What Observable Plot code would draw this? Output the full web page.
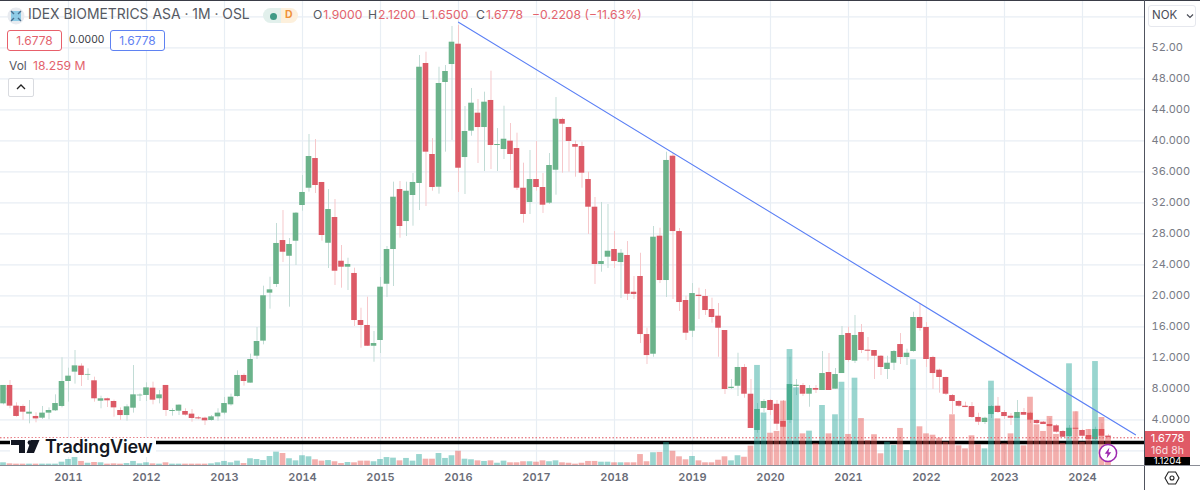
<!DOCTYPE html>
<html><head><meta charset="utf-8">
<script src="https://cdn.jsdelivr.net/npm/d3@7"></script>
<script src="https://cdn.jsdelivr.net/npm/@observablehq/plot@0.6"></script>
<style>
html,body{margin:0;padding:0;background:#fff;width:1200px;height:490px;overflow:hidden;font-family:Inter,"Noto Sans",sans-serif}
#wrap{position:relative;width:1200px;height:490px;overflow:hidden}
#wrap svg{display:block}
.t{position:absolute;white-space:nowrap;line-height:1}
.box{position:absolute;box-sizing:border-box;background:#fff}
.rule{position:absolute}
</style></head><body><div id="wrap"><div id="chart"></div></div>
<script>
// Monthly candles [open, high, low, close], NOK, one list per calendar year
const candles2010=[[6.06,8.43,5.93,8.43],[8.43,9.07,5.42,5.76],[5.76,6.19,4.34,4.43],[5.72,5.93,3.91,4.98],[4.73,6.49,3.48,4.98],[4.43,4.90,3.61,4.12],[4.21,5.72,4.04,4.86],[4.86,5.54,4.00,5.20],[5.16,7.22,5.07,6.10],[5.72,12.0,5.54,8.94]];
const candles2011=[[8.94,10.66,6.28,9.63],[10.15,12.94,8.6,10.96],[10.92,11.22,8.3,9.72],[9.76,10.58,9.07,9.85],[9.03,9.5,6.28,6.71],[6.4,7.05,5.42,6.71],[6.71,6.79,5.59,6.45],[6.36,6.53,4.34,5.54],[5.2,5.54,3.91,4.55],[4.55,5.93,3.82,5.67],[5.5,11.0,4.86,7.22],[7.09,7.35,6.36,7.18]];
const candles2012=[[7.14,8.77,6.36,8.12],[8.08,8.86,5.93,6.53],[6.71,7.78,6.06,7.22],[8.43,8.43,4.43,5.2],[5.07,5.42,4.47,5.2],[5.11,5.93,4.55,5.89],[5.07,5.42,4.47,4.6],[4.73,5.33,3.69,4.17],[4.25,4.43,4.0,4.12],[4.21,4.34,3.26,3.87],[3.91,4.55,3.82,4.38],[4.38,5.42,3.82,4.86]];
const candles2013=[[4.86,6.88,4.64,6.1],[5.93,7.31,5.76,6.92],[7.0,10.32,6.92,9.72],[9.72,9.93,8.34,8.94],[8.73,12.47,8.73,11.78],[12.21,15.91,11.78,14.1],[14.15,21.24,13.67,20.0],[20.34,22.4,18.27,20.77],[21.46,29.33,21.07,26.75],[27.13,31.0,24.29,25.62],[25.1,27.39,18.53,26.62],[27.04,30.75,23.91,30.66]];
const candles2014=[[31.65,35.52,30.91,33.33],[33.88,40.81,33.37,37.97],[37.71,40.16,33.2,34.23],[34.62,34.62,27.04,27.78],[26.78,33.71,23.52,31.13],[30.1,32.42,21.33,23.17],[24.46,26.49,20.98,23.69],[23.69,24.85,20.68,24.04],[22.88,23.56,16.04,16.81],[16.81,18.4,13.24,16.17],[16.17,19.82,13.46,13.49],[13.49,15.39,11.43,13.84]];
const candles2015=[[14.23,22.36,12.55,21.11],[21.49,26.36,19.78,25.97],[25.97,34.66,21.2,32.72],[33.71,34.75,27.43,28.94],[29.58,34.66,27.65,33.49],[32.94,35.78,28.98,34.62],[34.49,51.0,31.0,49.49],[49.97,51.43,31.52,38.53],[38.23,40.29,33.49,33.97],[34.01,49.49,33.11,47.39],[47.52,49.71,38.53,48.94],[49.84,54.75,40.04,52.72]];
const candles2016=[[52.46,54.87,33.33,36.46],[37.84,44.42,33.07,41.2],[41.24,46.75,40.59,44.85],[43.56,45.33,37.07,41.71],[41.71,46.27,36.04,44.98],[45.2,48.98,36.29,39.39],[39.39,41.58,36.04,39.52],[38.87,44.46,37.58,40.2],[39.95,42.23,36.16,38.23],[39.0,40.98,33.58,33.88],[33.88,37.11,29.37,30.49],[32.04,38.75,30.49,35.0]];
const candles2017=[[35.0,39.91,33.49,33.97],[33.97,35.78,30.62,31.69],[31.95,38.36,31.78,36.81],[36.2,45.58,32.98,42.78],[42.75,42.91,35.82,42.14],[41.71,41.75,35.95,39.91],[39.52,39.95,35.3,39.17],[39.26,39.82,33.88,35.82],[35.0,35.95,27.91,31.43],[31.43,32.68,21.46,24.04],[24.04,32.04,23.04,24.42],[24.98,31.78,23.52,25.75]];
const candles2018=[[25.97,28.29,23.52,24.42],[24.29,25.97,19.65,25.49],[25.2,27.0,19.39,20.2],[20.46,22.49,19.52,20.17],[22.49,25.49,13.84,15.0],[15.0,15.82,11.13,12.29],[12.46,28.94,12.07,27.56],[27.69,28.72,21.58,21.97],[21.97,38.53,19.78,37.46],[38.01,38.36,19.52,28.29],[28.29,28.68,17.97,19.13],[19.39,19.95,14.23,15.17]];
const candles2019=[[15.43,21.58,14.62,20.29],[20.07,20.98,16.94,19.91],[19.91,20.81,17.46,18.1],[18.23,19.69,16.46,17.2],[17.37,19.0,12.07,15.82],[15.52,15.52,7.26,7.91],[8.04,9.2,7.91,8.2],[8.33,12.59,7.0,10.75],[10.75,11.13,6.78,7.3],[7.3,9.2,2.88,2.88],[2.62,6.1,2.27,5.33],[5.46,6.62,4.94,6.36]];
const candles2020=[[6.49,6.62,4.55,5.2],[6.0,6.49,2.62,3.43],[3.78,6.49,1.75,3.04],[3.91,12.07,3.52,8.55],[8.3,9.2,7.13,8.46],[8.42,8.68,7.0,7.3],[7.3,8.42,5.62,8.04],[8.04,8.42,7.39,7.82],[7.78,12.81,7.78,9.97],[10.1,12.55,7.78,7.78],[7.95,10.62,7.91,9.84],[9.97,16.04,9.97,14.88]];
const candles2021=[[15.13,15.95,11.43,11.65],[11.56,17.46,11.26,14.88],[15.26,16.29,12.55,12.94],[12.98,14.62,11.56,12.85],[12.94,12.94,9.2,12.2],[12.2,12.29,9.71,10.75],[10.49,12.2,9.2,11.3],[11.3,12.94,10.36,12.81],[13.71,15.13,11.13,12.04],[12.04,13.11,11.0,12.59],[12.81,17.88,12.72,17.2],[17.2,19.0,15.43,15.78]];
const candles2022=[[15.91,16.55,10.75,11.78],[12.04,12.2,7.91,9.97],[10.4,10.53,7.43,9.46],[9.46,9.49,7.13,7.3],[7.13,7.26,4.68,6.36],[6.36,6.49,5.62,5.75],[5.75,6.27,5.58,5.58],[5.71,6.23,4.17,4.3],[4.3,4.85,3.26,3.69],[3.65,4.33,3.39,4.2],[4.68,5.84,4.17,5.71],[5.75,6.88,4.81,4.94]];
const candles2023=[[4.94,5.2,4.04,4.42],[4.46,4.81,3.26,4.2],[4.2,6.49,4.17,4.94],[4.94,5.46,4.55,4.59],[4.85,4.98,3.52,3.95],[3.91,4.04,3.39,3.52],[3.69,3.78,3.39,3.39],[3.39,4.17,3.04,3.13],[3.22,3.39,2.27,2.4],[2.49,2.62,1.71,1.75],[1.84,3.26,1.75,2.91],[2.91,5.07,1.84,2.78]];
const candles2024=[[2.62,2.75,1.58,1.88],[1.97,2.75,1.11,1.46],[1.46,3.04,1.33,2.75],[2.75,3.52,1.46,1.88],[1.90,2.12,1.65,1.6778]];

// Monthly volume, millions of shares
const volumes2010=[1.8,1.1,.9,.9,.9,.9,.9,.9,.9,2.2];
const volumes2011=[4,7.3,2.7,1.5,2,1.8,.9,1.1,.9,1.3,2.7,1.1];
const volumes2012=[1.8,1.1,.9,1.8,.9,.9,.9,.9,.9,.9,1.1,1.8];
const volumes2013=[2.7,1.8,2.9,1.3,4.5,4,3.3,6,8.9,8,4.5,3.1];
const volumes2014=[6.5,5.8,3.8,2.9,3.3,2.5,1.3,2,1.8,2.9,2.9,2.5];
const volumes2015=[4,5.3,4.9,3.1,4.7,2.9,7.3,4.2,4.2,8,4.7,6.5];
const volumes2016=[9.5,4.2,3.8,3.1,2.7,3.1,1.5,2.9,1.8,1.8,2.5,2.5];
const volumes2017=[2.2,3.1,2.5,3.1,1.8,1.5,.9,1.5,2.7,2.7,2.2,2.2];
const volumes2018=[1.8,1.8,1.8,1.8,7.3,2.5,8.5,8.7,15.3,9.5,5.8,3.8];
const volumes2019=[6,3.1,1.8,1.8,3.5,5.8,3.1,6.5,5.5,12.9,66.7,35];
const volumes2020=[21.5,22.7,42.9,77.3,51.8,21.1,22.9,14.5,40,21.1,33.8,55.5];
const volumes2021=[20.7,58.2,31.3,16.7,20.5,7.8,15.5,13.3,24.7,10,70.5,25.8];
const volumes2022=[21.1,20.2,18.2,15.5,33.8,13.1,11.1,19.8,13.8,11.1,56.2,31.1];
const volumes2023=[14.5,21.1,32.2,13.1,45.5,27.1,22.7,32.7,20.7,14.7,67.8,35.8];
const volumes2024=[15.5,24,69.3,32,18.259];

// Axis ticks
const yearLabels=["2011","2012","2013","2014","2015","2016","2017","2018","2019","2020","2021","2022","2023","2024"];
const priceTicks=[52,48,44,40,36,32,28,24,20,16,12,8,4];
const priceLabels=["52.00","48.000","44.000","40.000","36.000","32.000","28.000","24.000","20.000","16.000","12.000","8.0000","4.0000"];
const gridPrices=[56,52,48,44,40,36,32,28,24,20,16,12,8,4,0];

// Trend line ends: [months since Jan 2010, price]
const trendMonths=[72,176.15];
const trendPrices=[55.3,2.06];

const lastClose=1.6778;
const blackLevel=1.07;

// Months since Jan 2010; the series starts in March 2010
const allCandles=[candles2010,candles2011,candles2012,candles2013,candles2014,candles2015,candles2016,candles2017,candles2018,candles2019,candles2020,candles2021,candles2022,candles2023,candles2024].flat();
const allVolumes=[volumes2010,volumes2011,volumes2012,volumes2013,volumes2014,volumes2015,volumes2016,volumes2017,volumes2018,volumes2019,volumes2020,volumes2021,volumes2022,volumes2023,volumes2024].flat();
const rows=allCandles.map(([o,h,l,c],k)=>({m:k+2,o,h,l,c,v:allVolumes[k],up:c>=o}));

const priceFloor=-1.897;            // price level at the bottom of the pane
const volUnit=1.5/7.75;             // price units per million of volume
const half=0.43, volHalf=0.44;
const yearTicks=yearLabels.map((_,k)=>12+12*k);
const UP="#6bb38b",DOWN="#dc5a66",UPW="#c2dcd6",DOWNW="#f6c8cb";

const chart=Plot.plot({
  width:1200,height:490,marginTop:0,marginLeft:0,marginRight:56,marginBottom:25,
  style:{fontFamily:"Inter,'Noto Sans',sans-serif",background:"transparent",overflow:"hidden"},
  x:{type:"linear",domain:[1.538,177.54],axis:null},
  y:{type:"linear",domain:[priceFloor,58.1],axis:null},
  marks:[
    Plot.ruleX(yearTicks,{stroke:"#e8eef4",strokeWidth:1.2}),
    Plot.ruleY(gridPrices,{stroke:"#e8eef4",strokeWidth:1.2}),
    Plot.ruleX(rows,{x:"m",y1:"l",y2:"h",stroke:d=>d.up?UPW:DOWNW,strokeWidth:1}),
    Plot.rect(rows,{x1:d=>d.m-half,x2:d=>d.m+half,y1:"o",y2:"c",fill:d=>d.up?UP:DOWN}),
    Plot.ruleY([blackLevel],{stroke:"#000",strokeWidth:3.4}),
    Plot.rect(rows,{x1:d=>d.m-volHalf,x2:d=>d.m+volHalf,y1:priceFloor,y2:d=>priceFloor+d.v*volUnit,fill:d=>d.up?"#26a69a":"#e5534f",fillOpacity:.47}),
    Plot.ruleY([lastClose],{stroke:"#e0525e",strokeWidth:1,strokeDasharray:"1.5 2"}),
    Plot.line(trendMonths.map((m,k)=>({m,p:trendPrices[k]})),{x:"m",y:"p",stroke:"#5a7ff5",strokeWidth:1.1}),
    Plot.axisX({ticks:yearTicks,anchor:"bottom",tickSize:0,tickPadding:8,tickFormat:(d)=>yearLabels[(d-12)/12],fontSize:11,fontWeight:600,fill:"#6a6d78",letterSpacing:".4px",label:null}),
    Plot.axisY({ticks:priceTicks,anchor:"right",tickSize:0,tickPadding:7,tickFormat:(d)=>priceLabels[priceTicks.indexOf(d)],fontSize:11,fill:"#787b86",label:null}),
  ]
});
const wrap=document.getElementById("wrap");
document.getElementById("chart").appendChild(chart);

function add(html){wrap.insertAdjacentHTML("beforeend",html)}
const R="#e3636d",G="#555962";
// frame
add(`<div class="rule" style="left:0;top:0;width:1200px;height:1px;background:#3a3d47"></div>`);
add(`<div class="rule" style="left:1144px;top:0;width:1px;height:490px;background:#50535e"></div>`);
add(`<div class="rule" style="left:0;top:465px;width:1200px;height:1px;background:#8a8d96"></div>`);
// header
add(`<svg style="position:absolute;left:7px;top:7px" width="18" height="18"><circle cx="9" cy="9" r="8.5" fill="#e8ebf0"/><rect x="4" y="4" width="10" height="10" fill="#8ecbe6"/><path d="M4 4l3 3M14 4l-3 3M4 14l3-3M14 14l-3-3" stroke="#4a6f8f" stroke-width="1.4"/></svg>`);
add(`<span class="t" style="left:28px;top:8px;font-size:13.9px;color:${G}">IDEX BIOMETRICS ASA · 1M · OSL</span>`);
add(`<div class="box" style="left:263px;top:8px;width:18px;height:15px;background:#e2f0ec;border-radius:8px 0 0 8px"></div><div class="box" style="left:281px;top:8px;width:17px;height:15px;background:#fdf0dc;border-radius:0 8px 8px 0"></div>`);
add(`<div class="box" style="left:270px;top:12.5px;width:7px;height:7px;background:#3f9a86;border-radius:50%"></div>`);
add(`<span class="t" style="left:285px;top:10px;font-size:10.5px;font-weight:700;color:#f0923a">D</span>`);
const ohlc=[[313,"O","1.9000"],[368,"H","2.1200"],[422,"L","1.6500"],[476,"C","1.6778"]];
ohlc.forEach(([x,a,b])=>add(`<span class="t" style="left:${x}px;top:9px;font-size:12.2px;color:${G}">${a}<span style="color:${R};margin-left:1px">${b}</span></span>`));
add(`<span class="t" style="left:532px;top:9px;font-size:12.2px;color:${R}">−0.2208 (−11.63%)</span>`);
add(`<div class="box" style="left:7px;top:30px;width:55px;height:21px;border:1px solid #e8606b;border-radius:3px;text-align:center;color:${R};font-size:12px;line-height:19px">1.6778</div>`);
add(`<span class="t" style="left:69px;top:35px;font-size:10.4px;color:#3a3d47">0.0000</span>`);
add(`<div class="box" style="left:110px;top:30px;width:55px;height:21px;border:1px solid #5f82f2;border-radius:3px;text-align:center;color:#5f82f2;font-size:12px;line-height:19px">1.6778</div>`);
add(`<span class="t" style="left:9px;top:60px;font-size:12px;color:${G}">Vol</span>`);
add(`<span class="t" style="left:33px;top:60px;font-size:12.2px;color:${R}">18.259 M</span>`);
add(`<div class="box" style="left:8px;top:78px;width:26px;height:19px;border:1px solid #d9dbe0;border-radius:2px"></div>`);
add(`<svg style="position:absolute;left:15px;top:83px" width="12" height="8"><path d="M2 6l4-4 4 4" fill="none" stroke="#222" stroke-width="1.3"/></svg>`);
// currency selector
add(`<div class="box" style="left:1148px;top:5px;width:48px;height:22px;border:1px solid #e6e8ee;border-radius:3px"></div>`);
add(`<span class="t" style="left:1152px;top:10px;font-size:11.5px;color:#4a4d57">NOK</span>`);
add(`<svg style="position:absolute;left:1186px;top:13px" width="8" height="6"><path d="M1 1.5l3 3 3-3" fill="none" stroke="#4a4d57" stroke-width="1.2"/></svg>`);
// price labels
add(`<div class="box" style="left:1145px;top:431px;width:45px;height:26px;background:#e05a66"></div>`);
add(`<span class="t" style="left:1145px;width:45px;text-align:center;top:433px;font-size:11px;line-height:11px;color:#fff">1.6778</span>`);
add(`<span class="t" style="left:1145px;width:45px;text-align:center;top:445px;font-size:10.5px;line-height:11px;color:#fff;opacity:.8">16d 8h</span>`);
add(`<div class="box" style="left:1145px;top:457px;width:45px;height:8px;background:#000"></div>`);
add(`<span class="t" style="left:1145px;width:45px;text-align:center;top:457px;font-size:9.5px;line-height:8px;color:#fff">1.1204</span>`);
// watermark
add(`<div class="box" style="left:10px;top:438px;width:146px;height:19px;background:#fff;border-radius:3px"></div>`);
add(`<svg style="position:absolute;left:11px;top:439px" width="32" height="15" viewBox="0 0 32 15"><path d="M0 1h14v13H8V6H0zM20 1h8.5l-5.5 13h-7.5z" fill="#131722"/><circle cx="19" cy="3.6" r="2.4" fill="#131722"/></svg>`);
add(`<span class="t" style="left:45px;top:438px;font-size:18px;font-weight:600;color:#131722;letter-spacing:-.2px">TradingView</span>`);
// lightning badge
add(`<svg style="position:absolute;left:1098px;top:443px" width="20" height="20"><circle cx="10" cy="10" r="8.6" fill="#fff" stroke="#9c27b0" stroke-width="1.5"/><path d="M11.4 4.6L6.8 10.8h2.7L8.6 15.4l4.6-6.2h-2.7z" fill="#9c27b0"/></svg>`);
// settings icon
add(`<svg style="position:absolute;left:1164px;top:470px" width="16" height="16"><path d="M4.4 2h7.2l3.4 6-3.4 6H4.4L1 8z" fill="none" stroke="#222" stroke-width="1.1"/><circle cx="8" cy="8" r="2" fill="none" stroke="#222" stroke-width="1.1"/></svg>`);
</script></body></html>
